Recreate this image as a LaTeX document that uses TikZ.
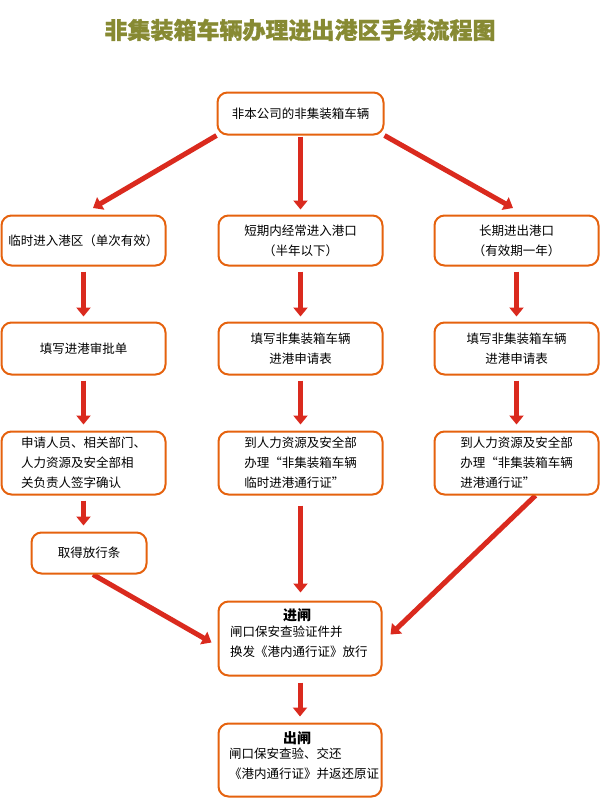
\documentclass[tikz,border=0pt]{standalone}
\usepackage{fontspec}
\setmainfont{Noto Sans CJK SC}
\usetikzlibrary{arrows.meta,calc}
\pgfdeclarelayer{background}
\pgfsetlayers{background,main}
\definecolor{boxorange}{HTML}{E5620E}
\definecolor{arrred}{HTML}{DA2A1E}
\definecolor{titleolive}{HTML}{878A33}
\tikzset{
  box/.style={draw=boxorange, line width=2pt, rounded corners=10pt, fill=white,
    font=\fontsize{12.5}{20}\selectfont, align=center, inner sep=0pt},
  txt/.style={font=\fontsize{12.5}{20}\selectfont, align=left, inner sep=0pt},
  hdr/.style={font=\fontsize{14}{16}\selectfont\bfseries, inner sep=0pt},
  arr/.style={draw=arrred, line width=5pt, -{Triangle[length=9pt,width=14pt]}},
}
\begin{document}
\begin{tikzpicture}[x=1pt,y=-1pt]
\useasboundingbox (0,0) rectangle (600,803);
\node[font=\fontsize{23}{25}\selectfont\bfseries\addfontfeature{FakeBold=1.2}, text=titleolive] (title) at (300,30) {非集装箱车辆办理进出港区手续流程图};

\node[box, minimum width=166pt, minimum height=42pt] (top) at (300.5,113.5) {非本公司的非集装箱车辆};

\node[box, minimum width=164pt, minimum height=50pt] (r1l) at (83.5,240.5) {临时进入港区（单次有效）};
\node[box, minimum width=164pt, minimum height=50pt] (r1m) at (300.5,240.5) {短期内经常进入港口\\（半年以下）};
\node[box, minimum width=164pt, minimum height=50pt] (r1r) at (516.5,240.5) {长期进出港口\\（有效期一年）};

\node[box, minimum width=164pt, minimum height=52pt] (r2l) at (83.5,348.5) {填写进港审批单};
\node[box, minimum width=164pt, minimum height=52pt] (r2m) at (300.5,348.5) {填写非集装箱车辆\\进港申请表};
\node[box, minimum width=164pt, minimum height=52pt] (r2r) at (516.5,348.5) {填写非集装箱车辆\\进港申请表};

\node[box, align=left, minimum width=164pt, minimum height=63pt] (r3l) at (83.5,463) {申请人员、相关部门、\\人力资源及安全部相\\关负责人签字确认};
\node[box, align=left, minimum width=164pt, minimum height=63pt] (r3m) at (300.5,463) {到人力资源及安全部\\办理“非集装箱车辆\\临时进港通行证”};
\node[box, align=left, minimum width=164pt, minimum height=63pt] (r3r) at (516.5,463) {到人力资源及安全部\\办理“非集装箱车辆\\进港通行证”};

\node[box, minimum width=115pt, minimum height=41pt] (qu) at (89,553) {取得放行条};

\node[box, minimum width=163pt, minimum height=74pt] (jin) at (300,638.5) {};
\node[hdr] (jinh) at (297,615) {进闸};
\node[txt, anchor=north west] (jint) at (230,626) {闸口保安查验证件并\\换发《港内通行证》放行};

\node[box, minimum width=163pt, minimum height=73pt] (chu) at (300,760) {};
\node[hdr] (chuh) at (297,738) {出闸};
\node[txt, anchor=north west] (chut) at (229,748) {闸口保安查验、交还\\《港内通行证》并返还原证};

\begin{pgfonlayer}{background}
\draw[arr] (top.south west) -- (93,208);
\draw[arr, shorten <=1pt] (top.south) -- ($(r1m.north)+(0,-5)$);
\draw[arr] (top.south east) -- (513,208);

\draw[arr, shorten <=5pt] (r1l.south) -- ($(r2l.north)+(0,-5)$);
\draw[arr, shorten <=5pt] (r1m.south) -- ($(r2m.north)+(0,-5)$);
\draw[arr, shorten <=5pt] (r1r.south) -- ($(r2r.north)+(0,-5)$);

\draw[arr, shorten <=5pt] (r2l.south) -- ($(r3l.north)+(0,-6)$);
\draw[arr, shorten <=5pt] (r2m.south) -- ($(r3m.north)+(0,-6)$);
\draw[arr, shorten <=5pt] (r2r.south) -- ($(r3r.north)+(0,-6)$);

\draw[arr, shorten <=5pt] (r3l.south) -- ($(r3l.south |- qu.north)+(0,-6)$);
\draw[arr, shorten <=10pt] (r3m.south) -- ($(jin.north)+(0.5,-8)$);
\draw[arr] ($(r3r.south)+(19,0)$) -- ($(jin.east)+(8,-4)$);
\draw[arr] ($(qu.south)+(4,0)$) -- ($(jin.west)+(-6,4)$);
\draw[arr, shorten <=6pt] (jin.south) -- ($(chu.north)+(0,-6)$);
\end{pgfonlayer}
\end{tikzpicture}
\end{document}
